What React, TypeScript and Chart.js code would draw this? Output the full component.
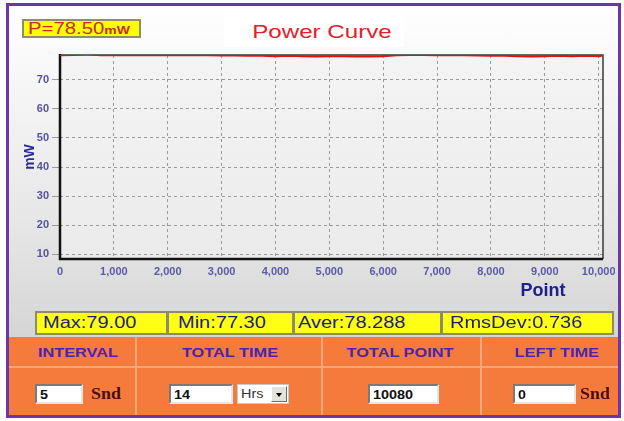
import React, { useEffect, useRef } from "react";
import { Chart, registerables } from "chart.js";

Chart.register(...registerables);

// ---- data ----
const pointIndex = [
  0, 250, 500, 750, 1000, 1250, 1500, 1750, 2000, 2250, 2500, 2750, 3000, 3250,
  3500, 3750, 4000, 4250, 4500, 4750, 5000, 5250, 5500, 5750, 6000, 6250, 6500,
  6750, 7000, 7250, 7500, 7750, 8000, 8250, 8500, 8750, 9000, 9250, 9500, 9750,
  10000, 10080,
];
const powerValues = [
  78.5, 78.6, 79.0, 78.5, 78.6, 78.5, 78.6, 78.5, 78.5, 78.6, 78.5, 78.5, 78.4,
  78.4, 78.3, 78.3, 78.2, 78.3, 78.2, 78.1, 78.2, 78.2, 78.1, 78.1, 78.2, 78.5,
  78.6, 78.6, 78.5, 78.6, 78.5, 78.4, 78.3, 78.3, 78.2, 78.1, 78.2, 78.3, 78.2,
  78.3, 78.2, 78.4,
];
const xTickValues = [0, 1000, 2000, 3000, 4000, 5000, 6000, 7000, 8000, 9000, 10000];
const yTickValues = [10, 20, 30, 40, 50, 60, 70];
const xRange = [0, 10080];
const yRange = [8.3, 78.6];

const currentPower = "P=78.50";
const currentUnit = "mW";
const chartTitle = "Power Curve";
const yAxisTitle = "mW";
const xAxisTitle = "Point";
const statLabels = ["Max:79.00", "Min:77.30", "Aver:78.288", "RmsDev:0.736"];
const panelHeaders = ["INTERVAL", "TOTAL TIME", "TOTAL POINT", "LEFT TIME"];
const intervalValue = "5";
const totalTimeValue = "14";
const totalTimeUnit = "Hrs";
const totalPointValue = "10080";
const leftTimeValue = "0";
const secondsUnit = "Snd";

const FONT = '"Liberation Sans", Arial, sans-serif';

const plotBg = {
  id: "plotBg",
  beforeDraw(chart: any) {
    const { ctx, chartArea: a } = chart;
    ctx.save();
    const g = ctx.createLinearGradient(0, a.top, 0, a.bottom);
    g.addColorStop(0, "#f4f4f4");
    g.addColorStop(1, "#ebebeb");
    ctx.fillStyle = g;
    ctx.fillRect(a.left, a.top, a.right - a.left, a.bottom - a.top);
    ctx.restore();
  },
  beforeDatasetsDraw(chart: any) {
    const { ctx, chartArea: a } = chart;
    ctx.save();
    ctx.strokeStyle = "#3a3a3a";
    ctx.lineWidth = 1.5;
    ctx.beginPath();
    ctx.moveTo(a.left, a.top);
    ctx.lineTo(a.right, a.top);
    ctx.lineTo(a.right, a.bottom);
    ctx.stroke();
    ctx.strokeStyle = "#111";
    ctx.lineWidth = 2.5;
    ctx.beginPath();
    ctx.moveTo(a.left, a.top - 1);
    ctx.lineTo(a.left, a.bottom);
    ctx.lineTo(a.right, a.bottom);
    ctx.stroke();
    ctx.restore();
  },
};

function Stretch({ children, style }: any) {
  return (
    <div
      style={{
        position: "absolute",
        whiteSpace: "nowrap",
        ...style,
      }}
    >
      {children}
    </div>
  );
}

function Inset({ left, top, width, height, children }: any) {
  return (
    <div
      style={{
        position: "absolute",
        left,
        top,
        width,
        height,
        boxSizing: "border-box",
        background: "#fff",
        borderTop: "2px solid #7a7a7a",
        borderLeft: "2px solid #7a7a7a",
        borderBottom: "2px solid #e6e6e6",
        borderRight: "2px solid #e6e6e6",
        overflow: "hidden",
      }}
    >
      {children}
    </div>
  );
}

function InputText({ text }: any) {
  return (
    <div
      style={{
        position: "absolute",
        left: 3,
        top: 2,
        font: `bold 12px ${FONT}`,
        color: "#111",
        transform: "scaleX(1.2)",
        transformOrigin: "left center",
        whiteSpace: "nowrap",
      }}
    >
      {text}
    </div>
  );
}

export default function App() {
  const canvasRef = useRef<HTMLCanvasElement | null>(null);

  useEffect(() => {
    const canvas = canvasRef.current;
    if (!canvas) return;
    const chart = new Chart(canvas, {
      type: "line",
      data: {
        datasets: [
          {
            data: pointIndex.map((x, i) => ({ x, y: powerValues[i] })),
            borderColor: "#e31010",
            borderWidth: 2,
            pointRadius: 0,
            tension: 0,
          },
        ],
      },
      options: {
        animation: false,
        responsive: false,
        devicePixelRatio: 1,
        layout: { padding: { top: 10, right: 12, left: 0, bottom: 0 } },
        plugins: { legend: { display: false }, tooltip: { enabled: false } },
        scales: {
          x: {
            type: "linear",
            min: xRange[0],
            max: xRange[1],
            afterBuildTicks: (s: any) => {
              s.ticks = xTickValues.map((v) => ({ value: v }));
            },
            afterFit: (s: any) => {
              s.height = 51;
              s.paddingLeft = 0;
              s.paddingRight = 0;
            },
            grid: { color: "#9a9a9a", lineWidth: 1, drawTicks: false },
            border: { display: false, dash: [3, 3] },
            ticks: {
              padding: 6,
              maxRotation: 0,
              autoSkip: false,
              color: "#5a5aa8",
              font: { family: FONT, size: 11, weight: "bold" },
            },
          },
          y: {
            type: "linear",
            min: yRange[0],
            max: yRange[1],
            afterBuildTicks: (s: any) => {
              s.ticks = yTickValues.map((v) => ({ value: v }));
            },
            afterFit: (s: any) => {
              s.width = 50;
              s.paddingTop = 0;
              s.paddingBottom = 0;
            },
            grid: { color: "#9a9a9a", lineWidth: 1, tickLength: 8 },
            border: { display: false, dash: [3, 3] },
            ticks: {
              padding: 3,
              color: "#52529f",
              font: { family: FONT, size: 11, weight: "bold" },
            },
            title: {
              display: true,
              text: yAxisTitle,
              color: "#2c2c98",
              font: { family: FONT, size: 14, weight: "bold" },
              padding: { top: 12, bottom: 0 },
            },
          },
        },
      } as any,
      plugins: [plotBg],
    });
    return () => chart.destroy();
  }, []);

  const statBoxes = [
    { left: 35, width: 133, textLeft: 6 },
    { left: 167, width: 127, textLeft: 9 },
    { left: 293, width: 149, textLeft: 3 },
    { left: 441, width: 173, textLeft: 7 },
  ];
  const headerCenters = [78, 230, 400, 557];

  return (
    <div
      style={{
        position: "absolute",
        left: 0,
        top: 0,
        width: 624,
        height: 421,
        background: "#ffffff",
        overflow: "hidden",
        fontFamily: FONT,
      }}
    >
      {/* purple frame with gradient body */}
      <div
        style={{
          position: "absolute",
          left: 6,
          top: 3,
          width: 615,
          height: 415,
          boxSizing: "border-box",
          border: "3px solid #6d36a8",
          background:
            "linear-gradient(to bottom, #ffffff 0px, #f6f6f6 80px, #e6e6e6 220px, #d5d5d5 330px, #d5d5d5 100%)",
        }}
      />
      {/* title background */}
      <div
        style={{
          position: "absolute",
          left: 224,
          top: 14,
          width: 180,
          height: 33,
          background: "#ffffff",
        }}
      />
      {/* chart canvas */}
      <canvas
        ref={canvasRef}
        width={605}
        height={265}
        style={{ position: "absolute", left: 10, top: 45, width: 605, height: 265 }}
      />
      {/* current power box */}
      <div
        style={{
          position: "absolute",
          left: 22,
          top: 19,
          width: 119,
          height: 19,
          boxSizing: "border-box",
          background: "#ffff00",
          border: "2px solid #8e8e68",
        }}
      >
        <div
          style={{
            position: "absolute",
            left: 4,
            top: -1,
            whiteSpace: "nowrap",
            color: "#cc2a1e",
            transform: "scaleX(1.27)",
            transformOrigin: "left center",
          }}
        >
          <span style={{ fontSize: 16 }}>{currentPower}</span>
          <span style={{ fontSize: 11, fontWeight: "bold" }}>{currentUnit}</span>
        </div>
      </div>
      {/* title */}
      <Stretch
        style={{
          left: 322,
          top: 32,
          font: `19px ${FONT}`,
          color: "#e3202a",
          transform: "translate(-50%, -50%) scaleX(1.27)",
        }}
      >
        {chartTitle}
      </Stretch>
      {/* x axis title */}
      <Stretch
        style={{
          left: 543,
          top: 290,
          font: `bold 18px ${FONT}`,
          color: "#1f2090",
          transform: "translate(-50%, -50%)",
        }}
      >
        {xAxisTitle}
      </Stretch>
      {/* stats */}
      {statLabels.map((s, i) => (
        <div
          key={s}
          style={{
            position: "absolute",
            left: statBoxes[i].left,
            top: 311,
            width: statBoxes[i].width,
            height: 24,
            boxSizing: "border-box",
            background: "#ffff14",
            border: "2px solid #8c8c6a",
          }}
        >
          <div
            style={{
              position: "absolute",
              left: statBoxes[i].textLeft,
              top: 1,
              fontSize: 16,
              color: "#1d1d78",
              whiteSpace: "nowrap",
              transform: "scaleX(1.25)",
              transformOrigin: "left center",
            }}
          >
            {s}
          </div>
        </div>
      ))}
      {/* orange panel */}
      <div
        style={{
          position: "absolute",
          left: 9,
          top: 337,
          width: 609,
          height: 78,
          background: "#f57b3d",
        }}
      />
      {[135, 321, 480].map((x) => (
        <div
          key={x}
          style={{
            position: "absolute",
            left: x,
            top: 337,
            width: 2,
            height: 78,
            background: "#f8a77b",
          }}
        />
      ))}
      <div
        style={{
          position: "absolute",
          left: 9,
          top: 366,
          width: 609,
          height: 2,
          background: "#f8a77b",
        }}
      />
      {panelHeaders.map((h, i) => (
        <Stretch
          key={h}
          style={{
            left: headerCenters[i],
            top: 353,
            font: `bold 12px ${FONT}`,
            color: "#4a24aa",
            transform: "translate(-50%, -50%) scaleX(1.36)",
          }}
        >
          {h}
        </Stretch>
      ))}
      {/* inputs */}
      <Inset left={35} top={384} width={48} height={20}>
        <InputText text={intervalValue} />
      </Inset>
      <Stretch
        style={{
          left: 91,
          top: 385,
          font: `bold 16px "Liberation Serif", "Times New Roman", serif`,
          color: "#4a0e0e",
          transform: "scaleX(1.12)",
          transformOrigin: "left center",
        }}
      >
        {secondsUnit}
      </Stretch>
      <Inset left={169} top={384} width={64} height={20}>
        <InputText text={totalTimeValue} />
      </Inset>
      <div
        style={{
          position: "absolute",
          left: 237,
          top: 384,
          width: 52,
          height: 20,
          boxSizing: "border-box",
          background: "#fff",
          border: "1px solid #c8c8c8",
        }}
      >
        <div
          style={{
            position: "absolute",
            left: 3,
            top: 2,
            fontSize: 12,
            color: "#333",
            transform: "scaleX(1.2)",
            transformOrigin: "left center",
          }}
        >
          {totalTimeUnit}
        </div>
        <div
          style={{
            position: "absolute",
            right: 1,
            top: 1,
            width: 16,
            height: 16,
            boxSizing: "border-box",
            background: "#e4e2dc",
            borderTop: "1px solid #fff",
            borderLeft: "1px solid #fff",
            borderRight: "1px solid #6e6e6e",
            borderBottom: "1px solid #6e6e6e",
          }}
        >
          <div
            style={{
              position: "absolute",
              left: 4,
              top: 6,
              width: 0,
              height: 0,
              borderLeft: "3.5px solid transparent",
              borderRight: "3.5px solid transparent",
              borderTop: "4px solid #000",
            }}
          />
        </div>
      </div>
      <Inset left={368} top={384} width={71} height={20}>
        <InputText text={totalPointValue} />
      </Inset>
      <Inset left={513} top={384} width={63} height={20}>
        <InputText text={leftTimeValue} />
      </Inset>
      <Stretch
        style={{
          left: 580,
          top: 385,
          font: `bold 16px "Liberation Serif", "Times New Roman", serif`,
          color: "#4a0e0e",
          transform: "scaleX(1.12)",
          transformOrigin: "left center",
        }}
      >
        {secondsUnit}
      </Stretch>
    </div>
  );
}
